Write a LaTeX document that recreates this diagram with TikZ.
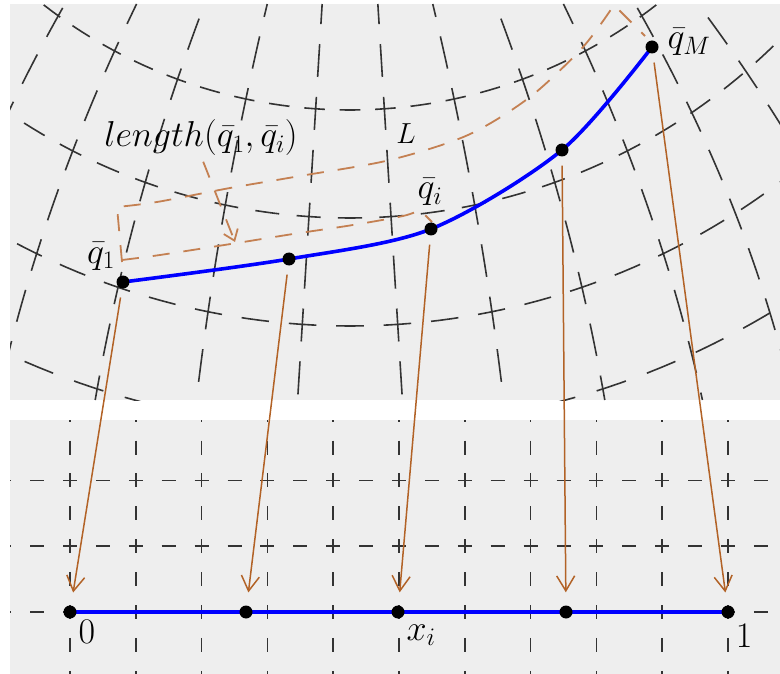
\RequirePackage{fix-cm}
\documentclass[tikz,border=0pt]{standalone}
\usepackage{amsmath}
\usepackage{tikz}
\usetikzlibrary{arrows.meta,positioning,calc}

\definecolor{panel}{RGB}{238,238,238}
\definecolor{arrbrown}{RGB}{178,98,38}
\definecolor{dashbrown}{RGB}{196,128,82}

\pgfdeclarelayer{background}
\pgfdeclarelayer{lines}
\pgfsetlayers{background,lines,main}

\begin{document}
\begin{tikzpicture}[
  x=1pt, y=-1pt,
  >={Straight Barb[length=15pt,width=18pt]},
  every node/.style={font=\fontsize{36}{43}\selectfont},
  lbl/.style={inner sep=0pt, anchor=base},
  dot/.style={circle, fill=black, inner sep=0pt, minimum size=13pt},
  curve/.style={blue, line width=3.6pt},
  gridline/.style={black!80, line width=1.6pt},
  map/.style={->, draw=arrbrown, line width=1.5pt, shorten <=9pt, shorten >=13pt},
  measure/.style={dashbrown, line width=1.8pt, dash pattern=on 17pt off 14pt},
]
\useasboundingbox (0,0) rectangle (780,674);

% Curve points
\node[dot] (q1) at (123,282) {};
\node[dot] (qa) at (289,259) {};
\node[dot] (qi) at (431,229) {};
\node[dot] (qb) at (562,150) {};
\node[dot] (qM) at (652,47) {};

% Unit interval points
\node[dot] (u0) at (70,612) {};
\node[dot] (ua) at (246,612) {};
\node[dot] (ui) at (398,612) {};
\node[dot] (ub) at (566,612) {};
\node[dot] (u1) at (728,612) {};

% Labels
\node[lbl] (lq1) at (101,263) {$\bar{q}_1$};
\node[lbl] (lqi) at (430,199) {$\bar{q}_i$};
\node[lbl] (lqM) at (689,49) {$\bar{q}_M$};
\node[lbl] (len) at (201,147) {$length(\bar{q}_1,\bar{q}_i)$};
\node[lbl, font=\fontsize{29}{35}\selectfont] (lL) at (406,144) {$L$};
\node[lbl] (l0) at (87,643) {$0$};
\node[lbl] (lxi) at (421,640) {$x_i$};
\node[lbl] (l1) at (744,647) {$1$};
\coordinate (lentip) at (235,242);

% Panels and grids
\begin{pgfonlayer}{background}
\fill[panel] (10,4) rectangle (780,400);
\fill[panel] (10,420) rectangle (780,674);
\begin{scope}
  \clip (10,4) rectangle (780,400);
  \foreach \R/\P in {499/35.5, 607/41.5, 715/47.5, 818/53.2} {
    \pgfmathsetmacro\don{0.58*\P}
    \pgfmathsetmacro\doff{0.42*\P}
    \pgfmathsetmacro\dph{0.29*\P}
    \foreach \e in {60,-60}
      \draw[gridline, dash pattern=on \don pt off \doff pt, dash phase=\dph pt]
        plot[domain=0:\e, samples=60] ({350+\R*sin(\x)}, {-389+\R*cos(\x)});
  }
  \foreach \o/\s/\k/\yc in {27.6/0.062/0/325, 81.8/0.2405/-0.000153/313,
      143.9/0.381/-0.000266/288, 211.5/0.4866/-0.000331/255,
      282.8/0.572/-0.000429/214, 345/0.75/-0.0005/164} {
    \foreach \side in {1,-1}
      \foreach \e in {4,400}
        \draw[gridline, dash pattern=on 33pt off 20pt, dash phase=16.5pt]
          plot[domain=\yc:\e, samples=40] ({350+\side*(\o+\s*\x+(\k)*\x*\x)}, \x);
  }
\end{scope}
\begin{scope}
  \clip (10,420) rectangle (780,674);
  \foreach \i in {0,...,11}
    \draw[gridline, dash pattern=on 14pt off 18.9pt, dash phase=7pt]
      ({4.2+65.8*\i},414.6) -- ++(0,270);
  \foreach \j in {0,...,3}
    \draw[gridline, dash pattern=on 14pt off 18.9pt, dash phase=7pt]
      (4.2,{414.6+65.8*\j}) -- ++(800,0);
\end{scope}
\end{pgfonlayer}

% Curves, mapping arrows and length marks
\begin{pgfonlayer}{lines}
\draw[curve] plot[smooth] coordinates {(q1.center) (qa.center) (qi.center) (qb.center) (qM.center)};
\draw[curve] (u0.center) -- (u1.center);

\draw[map] (q1) -- (u0);
\draw[map] (qa) -- (ua);
\draw[map] (qi) -- (ui);
\draw[map] (qb) -- (ub);
\draw[map] (qM) -- (u1);

\draw[measure] (122,262) -- plot[smooth] coordinates {(117,207) (157,202) (230,188)
  (300,176) (390,160) (468,135) (530,97) (583,47) (614,5)} -- (645,36);
\draw[measure] plot[smooth] coordinates {(122,260) (160,255) (237,243) (293,234)
  (353,225) (403,216) (420,210)} -- (432,222);
\draw[measure, -{Straight Barb[length=10pt,width=15pt]}, shorten <=6pt] (len.south) -- (lentip);
\end{pgfonlayer}
\end{tikzpicture}
\end{document}
